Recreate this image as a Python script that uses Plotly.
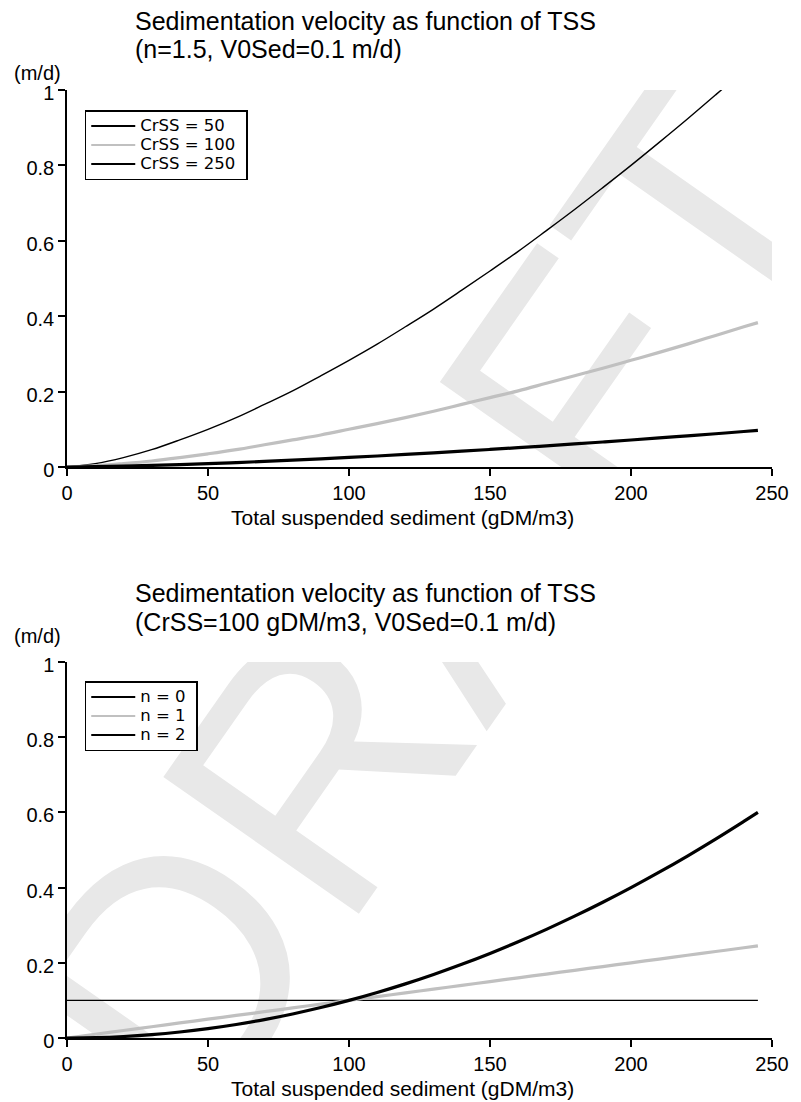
import plotly.graph_objects as go

# Total suspended sediment (gDM/m3)
tss = [0, 10, 20, 30, 40, 50, 60, 70, 80, 90, 100, 110, 120, 130, 140, 150,
       160, 170, 180, 190, 200, 210, 220, 230, 240, 245]

# Top panel: n = 1.5, V0Sed = 0.1 m/d, three critical concentrations
v_crss50 = [0, 0.009, 0.025, 0.046, 0.072, 0.100, 0.131, 0.166, 0.202, 0.242,
            0.283, 0.326, 0.372, 0.419, 0.469, 0.520, 0.572, 0.627, 0.683, 0.741,
            0.800, 0.861, 0.923, 0.987, 1.052, 1.085]
v_crss100 = [0, 0.003, 0.009, 0.016, 0.025, 0.035, 0.046, 0.059, 0.072, 0.085,
             0.100, 0.115, 0.131, 0.148, 0.166, 0.184, 0.202, 0.222, 0.242, 0.262,
             0.283, 0.304, 0.326, 0.349, 0.372, 0.383]
v_crss250 = [0, 0.0008, 0.0023, 0.0042, 0.0064, 0.0089, 0.0118, 0.0148, 0.0181,
             0.0216, 0.0253, 0.0292, 0.0333, 0.0375, 0.0419, 0.0465, 0.0512,
             0.0561, 0.0611, 0.0663, 0.0716, 0.0770, 0.0826, 0.0882, 0.0941, 0.0970]

# Bottom panel: CrSS = 100 gDM/m3, V0Sed = 0.1 m/d, three exponents
v_n0 = [0.1] * 26
v_n1 = [0, 0.01, 0.02, 0.03, 0.04, 0.05, 0.06, 0.07, 0.08, 0.09, 0.10, 0.11,
        0.12, 0.13, 0.14, 0.15, 0.16, 0.17, 0.18, 0.19, 0.20, 0.21, 0.22, 0.23,
        0.24, 0.245]
v_n2 = [0, 0.001, 0.004, 0.009, 0.016, 0.025, 0.036, 0.049, 0.064, 0.081, 0.100,
        0.121, 0.144, 0.169, 0.196, 0.225, 0.256, 0.289, 0.324, 0.361, 0.400,
        0.441, 0.484, 0.529, 0.576, 0.600]

top_names = ["CrSS = 50", "CrSS = 100", "CrSS = 250"]
bottom_names = ["n = 0", "n = 1", "n = 2"]
x_ticks = [0, 50, 100, 150, 200, 250]
y_ticks = [0, 0.2, 0.4, 0.6, 0.8, 1]

title_line1 = "Sedimentation velocity as function of TSS"
top_line2 = "(n=1.5, V0Sed=0.1 m/d)"
bottom_line2 = "(CrSS=100 gDM/m3, V0Sed=0.1 m/d)"
x_title = "Total suspended sediment (gDM/m3)"
y_unit = "(m/d)"
watermark = "DRAFT"

W, H = 801, 1102
L, R, T, B = 67, 19, 90, 64
PH = H - T - B


def py(p):
    """pixel row -> paper y"""
    return (H - B - p) / PH


def px(p):
    """pixel column -> paper x"""
    return (p - L) / (W - L - R)


ARIAL = "Liberation Sans, Arial, sans-serif"
LEG = "DejaVu Sans, Verdana, sans-serif"
GRAY = "#c0c0c0"
NBSP = "\u00a0"

styles = [dict(color="black", width=1.4), dict(color=GRAY, width=3.2),
          dict(color="black", width=3.2)]
key_colors = ["black", GRAY, "black"]


def legname(s):
    return '<span style="font-size:16.5px">' + s + NBSP + "</span>"


fig = go.Figure()
panels = [
    ("x", "y", "legend", [v_crss50, v_crss100, v_crss250], top_names),
    ("x2", "y2", "legend2", [v_n0, v_n1, v_n2], bottom_names),
]
for xa, ya, leg, series, names in panels:
    for ys, st in zip(series, styles):
        fig.add_trace(go.Scatter(x=tss, y=ys, mode="lines", showlegend=False,
                                 line=dict(shape="spline", **st),
                                 xaxis=xa, yaxis=ya, hoverinfo="skip"))
    # legend keys use thin lines for every series
    for name, col in zip(names, key_colors):
        fig.add_trace(go.Scatter(x=[None], y=[None], mode="lines", name=legname(name),
                                 line=dict(color=col, width=2),
                                 xaxis=xa, yaxis=ya, legend=leg))

top_dom = [py(467), 1.0]
bot_dom = [0.0, py(662)]

axis_common = dict(showline=True, linecolor="black", linewidth=1.5,
                   ticks="outside", ticklen=7, tickwidth=1.5, tickcolor="black",
                   showgrid=False, zeroline=False,
                   tickfont=dict(family=ARIAL, size=20, color="black"))

legend_common = dict(xanchor="left", yanchor="top", bgcolor="white",
                     bordercolor="black", borderwidth=1.5, itemwidth=44,
                     font=dict(family=LEG, size=12, color="black"))

fig.update_layout(
    width=W, height=H,
    margin=dict(l=L, r=R, t=T, b=B),
    paper_bgcolor="white", plot_bgcolor="white",
    showlegend=True,
    xaxis=dict(domain=[0, 1], range=[0, 250], tickvals=x_ticks, anchor="y",
               **axis_common),
    yaxis=dict(domain=top_dom, range=[0, 1], tickvals=y_ticks, anchor="x",
               ticklabelshift=3, **axis_common),
    xaxis2=dict(domain=[0, 1], range=[0, 250], tickvals=x_ticks, anchor="y2",
                **axis_common),
    yaxis2=dict(domain=bot_dom, range=[0, 1], tickvals=y_ticks, anchor="x2",
                ticklabelshift=3, **axis_common),
    legend=dict(x=px(85), y=py(110), **legend_common),
    legend2=dict(x=px(85), y=py(681), **legend_common),
)

# Watermark behind the curves, clipped to each plotting area
wm_px, wm_py = 410, 581
wx = (wm_px - L) / (W - L - R) * 250
for xr, yr, ylo, yhi in [("x", "y", 90, 467), ("x2", "y2", 662, 1038)]:
    wy = (yhi - wm_py) / (yhi - ylo)
    fig.add_shape(type="rect", xref=xr, yref=yr, x0=wx - 0.5, x1=wx + 0.5,
                  y0=wy - 0.001, y1=wy + 0.001, layer="below",
                  line=dict(width=0), fillcolor="rgba(0,0,0,0)",
                  label=dict(text=watermark, textangle=-55,
                             textposition="middle center",
                             font=dict(family=ARIAL, size=347, color="#e8e8e8")))

annos = []
for c1, c2, line2 in [(21, 49.5, top_line2), (593, 621.5, bottom_line2)]:
    annos.append(dict(text=title_line1, x=px(134), y=py(c1), xref="paper", yref="paper",
                      xanchor="left", yanchor="middle", showarrow=False,
                      font=dict(family=ARIAL, size=25, color="black")))
    annos.append(dict(text=line2, x=px(134), y=py(c2), xref="paper", yref="paper",
                      xanchor="left", yanchor="middle", showarrow=False,
                      font=dict(family=ARIAL, size=25, color="black")))
for c in [73, 636]:
    annos.append(dict(text=y_unit, x=px(37.5), y=py(c), xref="paper", yref="paper",
                      xanchor="center", yanchor="middle", showarrow=False,
                      font=dict(family=ARIAL, size=20, color="black")))
for c in [517, 1088]:
    annos.append(dict(text=x_title, x=px(407), y=py(c), xref="paper", yref="paper",
                      xanchor="center", yanchor="middle", showarrow=False,
                      font=dict(family=ARIAL, size=21, color="black")))
fig.update_layout(annotations=annos)

fig.write_html("out.html")
